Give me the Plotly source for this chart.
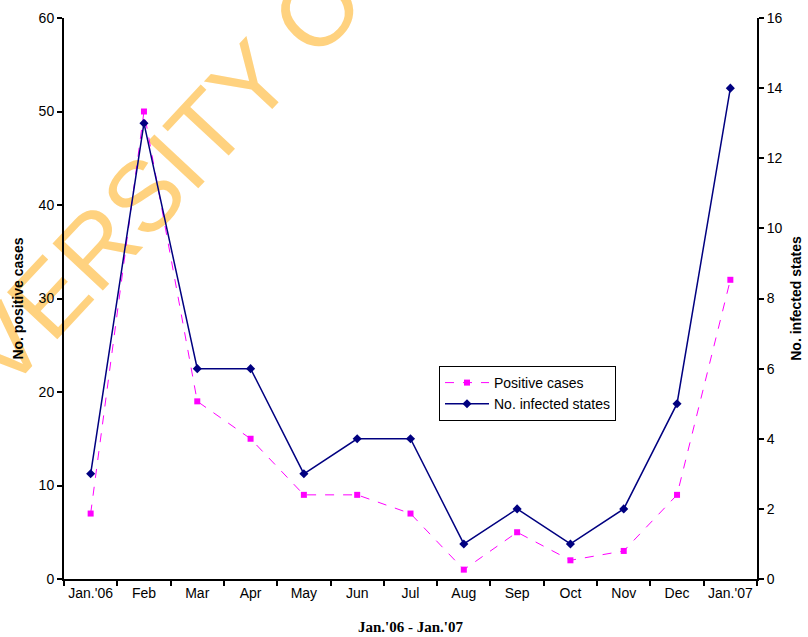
import plotly.graph_objects as go

months = ["Jan.'06", "Feb", "Mar", "Apr", "May", "Jun", "Jul", "Aug", "Sep", "Oct", "Nov", "Dec", "Jan.'07"]
positive_cases = [7, 50, 19, 15, 9, 9, 7, 1, 5, 2, 3, 9, 32]
infected_states = [3, 13, 6, 6, 3, 4, 4, 1, 2, 1, 2, 5, 14]

W, H = 808, 637
L, R, T, B = 64, 51, 18, 58
PW, PH = W - L - R, H - T - B

fig = go.Figure()

fig.add_trace(go.Scatter(
    x=months, y=positive_cases, name="Positive cases", mode="lines+markers",
    line=dict(color="#FF00FF", width=1, dash="dash"),
    marker=dict(symbol="square", size=6, color="#FF00FF"),
    yaxis="y",
))
fig.add_trace(go.Scatter(
    x=months, y=infected_states, name="No. infected states", mode="lines+markers",
    line=dict(color="#000080", width=1.5),
    marker=dict(symbol="diamond", size=7, color="#000080"),
    yaxis="y2",
))

SANS = "Liberation Sans, Arial, sans-serif"
axis_font = dict(family=SANS, size=14, color="black")
title_font = dict(family=SANS, size=14, color="black")

fig.update_layout(
    width=W, height=H,
    margin=dict(l=L, r=R, t=T, b=B, autoexpand=False),
    paper_bgcolor="white", plot_bgcolor="rgba(0,0,0,0)",
    font=axis_font,
    showlegend=True,
    legend=dict(
        x=(439 - L) / PW, y=(579 - 366) / PH,
        xanchor="left", yanchor="top",
        bgcolor="white", bordercolor="black", borderwidth=1,
        font=dict(family=SANS, size=14, color="black"),
        tracegroupgap=0, itemwidth=44,
    ),
    xaxis=dict(
        type="category", categoryorder="array", categoryarray=months,
        showline=True, linecolor="black", linewidth=2,
        ticks="outside", tickson="boundaries", ticklen=5, tickwidth=2, tickcolor="black",
        showgrid=False, zeroline=False, automargin=False, tickangle=0,
        tickfont=axis_font,
        title=dict(text="<b>Jan.'06 - Jan.'07</b>",
                   font=dict(family="Liberation Serif, Times New Roman, serif", size=15, color="black"),
                   standoff=22),
        range=[-0.5, 12.5],
    ),
    yaxis=dict(
        range=[0, 60], dtick=10,
        showline=True, linecolor="black", linewidth=2,
        ticks="outside", ticklen=5, tickwidth=2, tickcolor="black",
        showgrid=False, zeroline=False, automargin=False,
        tickfont=axis_font,
        title=dict(text="<b>No. positive cases</b>", font=title_font, standoff=12),
    ),
    yaxis2=dict(
        range=[0, 16], dtick=2, overlaying="y", side="right",
        showline=True, linecolor="black", linewidth=2,
        ticks="outside", ticklen=5, tickwidth=2, tickcolor="black",
        showgrid=False, zeroline=False, automargin=False,
        tickfont=axis_font,
        title=dict(text="<b>No. infected states</b>", font=title_font, standoff=10),
    ),
)

# watermark drawn beneath the data as the label of an invisible shape
cx, cy = (254 - L) / PW, (579 - 64) / PH
fig.add_shape(
    type="rect", xref="paper", yref="paper",
    x0=cx - 0.01, x1=cx + 0.01, y0=cy - 0.01, y1=cy + 0.01,
    line=dict(width=0), fillcolor="rgba(0,0,0,0)", layer="below",
    label=dict(text="UNIVERSITY OF IBADAN", textposition="middle center",
               textangle=-47, xanchor="center", yanchor="middle",
               font=dict(family=SANS, size=100, color="#FFD27F")),
)

fig.write_html("out.html", post_script="document.body.style.margin='0';",
               config={"displayModeBar": False})
